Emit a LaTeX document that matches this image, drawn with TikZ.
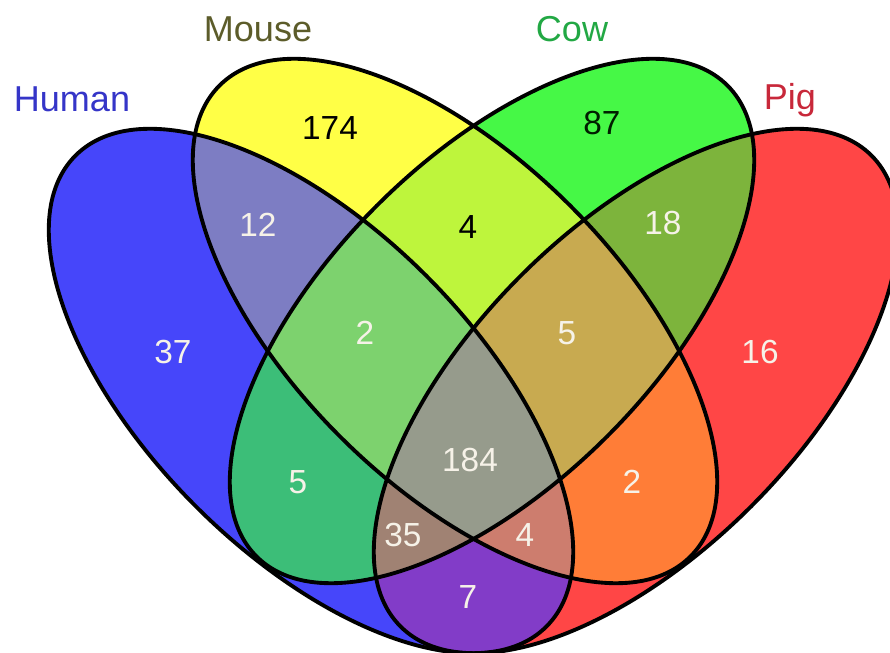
\documentclass[tikz,border=0pt]{standalone}
\usepackage{fontspec}
\setmainfont{Liberation Sans}
\usepackage{tikz}

\definecolor{hcol}{HTML}{4646FA}
\definecolor{mcol}{HTML}{FFFF46}
\definecolor{ccol}{HTML}{46F846}
\definecolor{pcol}{HTML}{FF4646}
\definecolor{hmcol}{HTML}{7D7DC3}
\definecolor{hccol}{HTML}{3CBE78}
\definecolor{hpcol}{HTML}{823CC8}
\definecolor{mccol}{HTML}{BEF53C}
\definecolor{mpcol}{HTML}{FF7D37}
\definecolor{cpcol}{HTML}{7DB43C}
\definecolor{hmccol}{HTML}{7DD26E}
\definecolor{hmpcol}{HTML}{CD7D6E}
\definecolor{hcpcol}{HTML}{A08273}
\definecolor{mcpcol}{HTML}{C8AA50}
\definecolor{allcol}{HTML}{969B8C}
\definecolor{numlight}{HTML}{F6F2E8}
\definecolor{humantext}{HTML}{3535C8}
\definecolor{mousetext}{HTML}{5C5C2A}
\definecolor{cowtext}{HTML}{22A844}
\definecolor{pigtext}{HTML}{C8283A}

\def\human{(311,262) ellipse [x radius=333, y radius=163]}
\def\mouse{(455,332) ellipse [x radius=333, y radius=163]}
\def\cow{(492,332) ellipse [x radius=333, y radius=163]}
\def\pig{(636,262) ellipse [x radius=333, y radius=163]}

\begin{document}
\begin{tikzpicture}[x=0.02cm,y=0.02cm,
    rotH/.style={rotate around={-45:(311,262)}},
    rotM/.style={rotate around={-45:(455,332)}},
    rotC/.style={rotate around={45:(492,332)}},
    rotP/.style={rotate around={45:(636,262)}},
    setline/.style={draw=black, line width=2.2pt},
    num/.style={font=\fontsize{19}{19}\selectfont, text=numlight, inner sep=0pt},
    lbl/.style={font=\fontsize{20.5}{20.5}\selectfont, inner sep=0pt, anchor=base}]
            \useasboundingbox (0,0) rectangle (890,653);

            % single sets
            \fill[hcol, rotH] \human;
            \fill[mcol, rotM] \mouse;
            \fill[ccol, rotC] \cow;
            \fill[pcol, rotP] \pig;

            % two sets
            \begin{scope} \clip[rotH] \human; \fill[hmcol, rotM] \mouse; \end{scope}
            \begin{scope} \clip[rotH] \human; \fill[hccol, rotC] \cow; \end{scope}
            \begin{scope} \clip[rotH] \human; \fill[hpcol, rotP] \pig; \end{scope}
            \begin{scope} \clip[rotM] \mouse; \fill[mccol, rotC] \cow; \end{scope}
            \begin{scope} \clip[rotM] \mouse; \fill[mpcol, rotP] \pig; \end{scope}
            \begin{scope} \clip[rotC] \cow; \fill[cpcol, rotP] \pig; \end{scope}

            % three sets
            \begin{scope} \clip[rotH] \human; \clip[rotM] \mouse; \fill[hmccol, rotC] \cow; \end{scope}
            \begin{scope} \clip[rotH] \human; \clip[rotM] \mouse; \fill[hmpcol, rotP] \pig; \end{scope}
            \begin{scope} \clip[rotH] \human; \clip[rotC] \cow; \fill[hcpcol, rotP] \pig; \end{scope}
            \begin{scope} \clip[rotM] \mouse; \clip[rotC] \cow; \fill[mcpcol, rotP] \pig; \end{scope}

            % all four
            \begin{scope} \clip[rotH] \human; \clip[rotM] \mouse; \clip[rotC] \cow; \fill[allcol, rotP] \pig; \end{scope}

            % outlines
            \draw[setline, rotH] \human;
            \draw[setline, rotM] \mouse;
            \draw[setline, rotC] \cow;
            \draw[setline, rotP] \pig;

            % set names
            \node[lbl, text=humantext] (lhuman) at (72,541) {Human};
            \node[lbl, text=mousetext] (lmouse) at (258,611) {Mouse};
            \node[lbl, text=cowtext] (lcow) at (572,611) {Cow};
            \node[lbl, text=pigtext] (lpig) at (790,543) {Pig};

            % counts
            \node[num, text=black] (n174) at (330,525) {174};
            \node[num, text=black!80!green!60!black] (n87) at (602,530) {87};
            \node[num] (n12) at (258,428) {12};
            \node[num, text=black] (n4a) at (468,426) {4};
            \node[num] (n18) at (663,430) {18};
            \node[num] (n37) at (173,301) {37};
            \node[num] (n2a) at (365,320) {2};
            \node[num] (n5a) at (567,320) {5};
            \node[num] (n16) at (760,301) {16};
            \node[num] (n5b) at (298,171) {5};
            \node[num] (n184) at (470,193) {184};
            \node[num] (n2b) at (632,171) {2};
            \node[num] (n35) at (403,118) {35};
            \node[num] (n4b) at (525,118) {4};
            \node[num] (n7) at (468,56) {7};
        \end{tikzpicture}
\end{document}
